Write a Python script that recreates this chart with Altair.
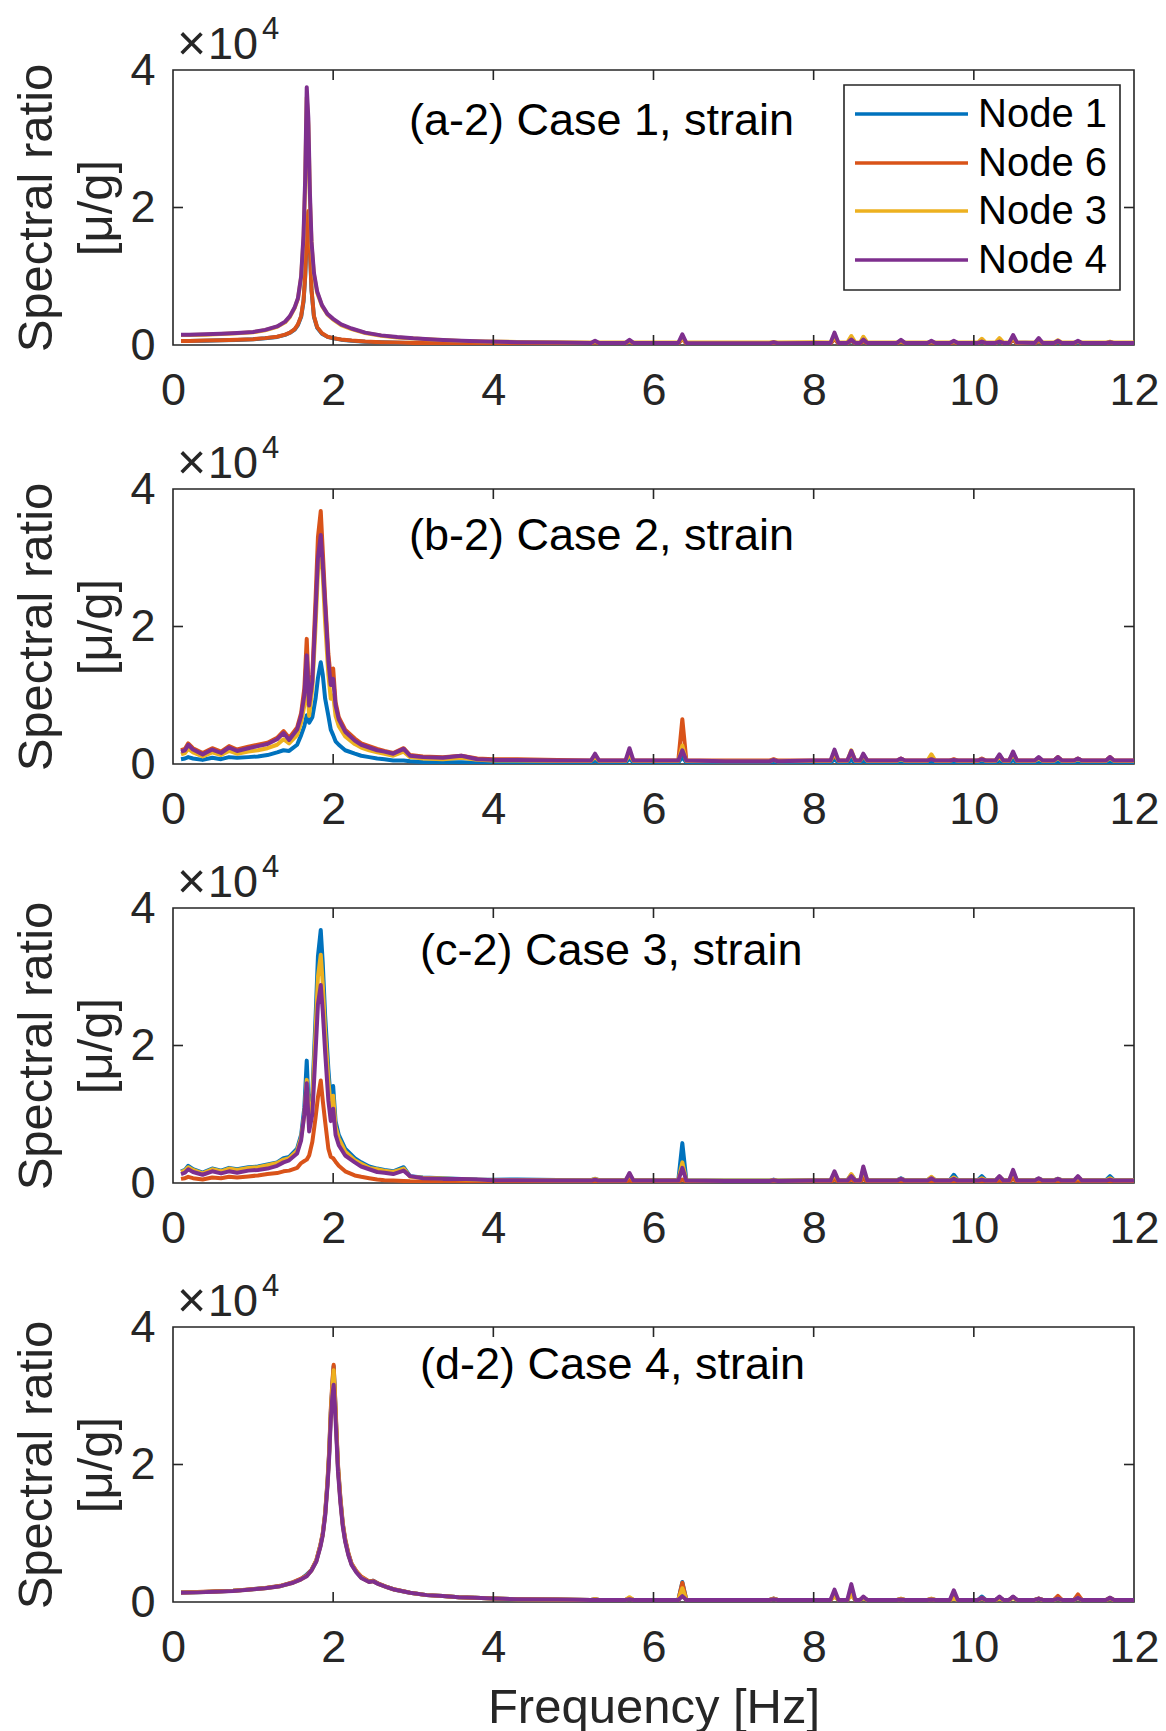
import altair as alt
import pandas as pd

FONT = "Liberation Sans"
AX = "#262626"
NODES = ["Node 1", "Node 6", "Node 3", "Node 4"]
COLORS = ["#0072BD", "#D95319", "#EDB120", "#7E2F8E"]
W, H = 961, 275

# ---------------- frequency grids (Hz) ----------------
FREQ_A_LO = [0.1, 0.2, 0.4, 0.6, 0.8, 1.0, 1.15, 1.3, 1.4, 1.46, 1.52, 1.56, 1.6, 1.63, 1.65, 1.67, 1.69,
             1.71, 1.73, 1.76, 1.8, 1.86, 1.93, 2.0, 2.1, 2.23, 2.4, 2.6, 2.8, 3.0, 3.3, 3.6, 3.9]
FREQ_BC_LO = [0.1, 0.15, 0.19, 0.25, 0.37, 0.49, 0.6, 0.7, 0.8, 0.94, 1.06, 1.18, 1.3, 1.38, 1.45, 1.55, 1.6,
              1.64, 1.67, 1.7, 1.74, 1.78, 1.81, 1.845, 1.87, 1.9, 1.94, 1.97, 2.0, 2.03, 2.07, 2.15, 2.27,
              2.35, 2.45, 2.55, 2.64, 2.75, 2.88, 2.96, 3.12, 3.37, 3.6, 3.8, 4.0]
FREQ_D_LO = [0.1, 0.3, 0.53, 0.75, 0.94, 1.15, 1.34, 1.5, 1.6, 1.67, 1.73, 1.79, 1.84, 1.87, 1.9, 1.93, 1.95,
             1.97, 1.99, 2.006, 2.02, 2.04, 2.06, 2.09, 2.12, 2.15, 2.19, 2.23, 2.29, 2.35, 2.45, 2.5, 2.56,
             2.66, 2.76, 2.96, 3.17, 3.37, 3.57, 3.77, 4.0]
FREQ_HI = [4.3, 4.8, 5.22, 5.27, 5.32, 5.65, 5.70, 5.75, 6.1, 6.31, 6.36, 6.41, 6.9, 7.45, 7.5, 7.55, 8.0,
           8.21, 8.26, 8.31, 8.42, 8.47, 8.52, 8.58, 8.62, 8.67, 9.04, 9.09, 9.14, 9.42, 9.47, 9.52,
           9.70, 9.75, 9.80, 10.05, 10.1, 10.15, 10.27, 10.32, 10.37, 10.44, 10.49, 10.54,
           10.76, 10.81, 10.86, 11.0, 11.05, 11.1, 11.25, 11.3, 11.35, 11.65, 11.7, 11.75, 12.0]

# ---------------- spectral ratio values (x 10^4 micro/g) ----------------
# Case 1
A1_LO = [0.058, 0.06, 0.063, 0.068, 0.074, 0.083, 0.098, 0.118, 0.148, 0.178, 0.225, 0.29, 0.41, 0.63, 0.98, 1.58, 1.93,
         1.38, 0.79, 0.41, 0.25, 0.165, 0.118, 0.098, 0.078, 0.063, 0.049, 0.039, 0.034, 0.029, 0.027, 0.026, 0.025]
A6_LO = [0.06, 0.06, 0.065, 0.07, 0.075, 0.085, 0.1, 0.12, 0.15, 0.18, 0.23, 0.3, 0.42, 0.65, 1.0, 1.6, 1.95,
         1.4, 0.8, 0.42, 0.26, 0.17, 0.12, 0.1, 0.08, 0.065, 0.05, 0.04, 0.035, 0.03, 0.028, 0.027, 0.026]
A3_LO = [0.145, 0.145, 0.15, 0.16, 0.17, 0.185, 0.215, 0.265, 0.33, 0.41, 0.54, 0.67, 0.98, 1.55, 2.3, 3.6, 3.2,
         2.1, 1.45, 1.02, 0.76, 0.57, 0.44, 0.37, 0.29, 0.23, 0.175, 0.135, 0.11, 0.095, 0.076, 0.06, 0.05]
A4_LO = [0.15, 0.15, 0.155, 0.165, 0.175, 0.19, 0.22, 0.27, 0.34, 0.42, 0.55, 0.68, 1.0, 1.6, 2.4, 3.75, 3.3,
         2.2, 1.5, 1.05, 0.78, 0.58, 0.45, 0.38, 0.3, 0.24, 0.18, 0.14, 0.115, 0.097, 0.078, 0.062, 0.05]
A1_HI = [0.03, 0.025, 0.02, 0.04, 0.02, 0.02, 0.045, 0.02, 0.02, 0.02, 0.1, 0.02, 0.02, 0.02, 0.03, 0.02, 0.02,
         0.02, 0.1, 0.02, 0.02, 0.06, 0.02, 0.02, 0.06, 0.02, 0.02, 0.05, 0.02, 0.02, 0.04, 0.02, 0.02, 0.04, 0.02,
         0.02, 0.05, 0.02, 0.02, 0.05, 0.02, 0.02, 0.08, 0.02, 0.02, 0.06, 0.02, 0.02, 0.04, 0.02, 0.02, 0.04, 0.02,
         0.02, 0.04, 0.02, 0.02]
A6_HI = [0.03, 0.025, 0.02, 0.04, 0.02, 0.02, 0.05, 0.02, 0.02, 0.02, 0.09, 0.02, 0.02, 0.02, 0.03, 0.02, 0.02,
         0.02, 0.09, 0.02, 0.02, 0.07, 0.02, 0.02, 0.06, 0.02, 0.02, 0.05, 0.02, 0.02, 0.04, 0.02, 0.02, 0.04, 0.02,
         0.02, 0.06, 0.02, 0.02, 0.06, 0.02, 0.02, 0.08, 0.02, 0.02, 0.06, 0.02, 0.02, 0.05, 0.02, 0.02, 0.05, 0.02,
         0.02, 0.04, 0.02, 0.02]
A3_HI = [0.045, 0.04, 0.035, 0.05, 0.035, 0.035, 0.06, 0.035, 0.035, 0.035, 0.1, 0.035, 0.035, 0.035, 0.045, 0.035,
         0.04, 0.035, 0.12, 0.035, 0.035, 0.13, 0.035, 0.035, 0.12, 0.035, 0.035, 0.06, 0.035, 0.035, 0.05, 0.035,
         0.035, 0.05, 0.035, 0.035, 0.09, 0.035, 0.035, 0.1, 0.035, 0.035, 0.11, 0.035, 0.035, 0.08, 0.035, 0.035,
         0.07, 0.035, 0.035, 0.05, 0.035, 0.035, 0.05, 0.035, 0.035]
A4_HI = [0.04, 0.035, 0.03, 0.063, 0.03, 0.03, 0.075, 0.03, 0.028, 0.03, 0.155, 0.03, 0.025, 0.025, 0.04, 0.025,
         0.03, 0.03, 0.18, 0.03, 0.03, 0.08, 0.03, 0.03, 0.08, 0.03, 0.03, 0.075, 0.03, 0.03, 0.06, 0.03, 0.03,
         0.06, 0.03, 0.03, 0.05, 0.03, 0.03, 0.05, 0.03, 0.03, 0.145, 0.035, 0.03, 0.1, 0.03, 0.03, 0.06, 0.03,
         0.03, 0.06, 0.03, 0.03, 0.04, 0.03, 0.03]

# Case 2
B1_LO = [0.07, 0.08, 0.1, 0.08, 0.06, 0.09, 0.07, 0.1, 0.09, 0.1, 0.11, 0.13, 0.17, 0.2, 0.19, 0.28, 0.42, 0.55,
         0.71, 0.6, 0.68, 0.95, 1.25, 1.48, 1.3, 0.95, 0.7, 0.5, 0.42, 0.33, 0.28, 0.2, 0.15, 0.12, 0.1, 0.08,
         0.07, 0.05, 0.05, 0.04, 0.03, 0.025, 0.025, 0.02, 0.02]
B6_LO = [0.2, 0.22, 0.3, 0.23, 0.16, 0.23, 0.18, 0.26, 0.21, 0.25, 0.28, 0.31, 0.38, 0.48, 0.38, 0.53, 0.74, 1.1,
         1.82, 0.92, 1.3, 2.4, 3.3, 3.68, 3.1, 2.4, 1.6, 1.25, 1.39, 0.9, 0.68, 0.5, 0.37, 0.3, 0.26, 0.22, 0.19,
         0.16, 0.23, 0.13, 0.11, 0.1, 0.12, 0.08, 0.07]
B3_LO = [0.14, 0.16, 0.22, 0.17, 0.11, 0.17, 0.13, 0.19, 0.15, 0.18, 0.2, 0.23, 0.28, 0.36, 0.3, 0.42, 0.6, 0.85,
         1.3, 0.7, 1.1, 2.0, 2.8, 3.2, 2.75, 2.05, 1.3, 0.95, 1.0, 0.7, 0.55, 0.4, 0.29, 0.24, 0.2, 0.17, 0.15,
         0.12, 0.18, 0.1, 0.08, 0.07, 0.09, 0.06, 0.05]
B4_LO = [0.18, 0.2, 0.28, 0.21, 0.14, 0.21, 0.16, 0.24, 0.19, 0.23, 0.26, 0.29, 0.36, 0.45, 0.35, 0.5, 0.7, 1.0,
         1.58, 0.85, 1.2, 2.2, 3.0, 3.33, 2.9, 2.3, 1.5, 1.15, 1.24, 0.85, 0.65, 0.47, 0.34, 0.28, 0.24, 0.2, 0.18,
         0.15, 0.22, 0.12, 0.1, 0.09, 0.12, 0.07, 0.06]
B1_HI = [0.02, 0.02, 0.02, 0.05, 0.02, 0.02, 0.08, 0.02, 0.02, 0.02, 0.1, 0.02, 0.015, 0.015, 0.03, 0.015, 0.02,
         0.02, 0.07, 0.02, 0.02, 0.06, 0.02, 0.02, 0.05, 0.02, 0.02, 0.04, 0.02, 0.02, 0.04, 0.02, 0.02, 0.03, 0.02,
         0.02, 0.04, 0.02, 0.02, 0.05, 0.02, 0.02, 0.06, 0.02, 0.02, 0.04, 0.02, 0.02, 0.04, 0.02, 0.02, 0.04, 0.02,
         0.02, 0.04, 0.02, 0.02]
B6_HI = [0.07, 0.06, 0.05, 0.12, 0.05, 0.05, 0.15, 0.05, 0.05, 0.05, 0.65, 0.05, 0.05, 0.05, 0.07, 0.05, 0.05,
         0.05, 0.13, 0.05, 0.05, 0.16, 0.05, 0.05, 0.12, 0.05, 0.05, 0.08, 0.05, 0.05, 0.08, 0.05, 0.05, 0.07, 0.05,
         0.05, 0.08, 0.05, 0.05, 0.12, 0.05, 0.05, 0.15, 0.05, 0.05, 0.09, 0.05, 0.05, 0.1, 0.05, 0.05, 0.08, 0.05,
         0.05, 0.1, 0.05, 0.05]
B3_HI = [0.05, 0.045, 0.045, 0.1, 0.045, 0.045, 0.14, 0.045, 0.045, 0.045, 0.27, 0.045, 0.04, 0.04, 0.06, 0.04,
         0.045, 0.045, 0.16, 0.045, 0.045, 0.2, 0.045, 0.045, 0.13, 0.045, 0.045, 0.07, 0.045, 0.045, 0.14, 0.045,
         0.045, 0.06, 0.045, 0.045, 0.07, 0.045, 0.045, 0.1, 0.045, 0.045, 0.15, 0.045, 0.045, 0.08, 0.045, 0.045,
         0.09, 0.045, 0.045, 0.07, 0.045, 0.045, 0.09, 0.045, 0.045]
B4_HI = [0.06, 0.05, 0.05, 0.15, 0.05, 0.05, 0.23, 0.05, 0.05, 0.05, 0.2, 0.05, 0.04, 0.04, 0.06, 0.04, 0.05,
         0.05, 0.21, 0.05, 0.05, 0.19, 0.05, 0.05, 0.15, 0.05, 0.05, 0.08, 0.05, 0.05, 0.07, 0.05, 0.05, 0.06, 0.05,
         0.05, 0.07, 0.05, 0.05, 0.14, 0.05, 0.05, 0.18, 0.05, 0.05, 0.1, 0.05, 0.05, 0.1, 0.05, 0.05, 0.08, 0.05,
         0.05, 0.1, 0.05, 0.05]

# Case 3
C1_LO = [0.17, 0.19, 0.25, 0.2, 0.15, 0.21, 0.18, 0.22, 0.2, 0.23, 0.24, 0.27, 0.3, 0.36, 0.38, 0.5, 0.7, 1.1,
         1.78, 0.95, 1.3, 2.4, 3.3, 3.68, 3.2, 2.43, 1.66, 1.2, 1.41, 0.9, 0.7, 0.5, 0.36, 0.3, 0.24, 0.21, 0.19,
         0.17, 0.23, 0.1, 0.08, 0.07, 0.06, 0.05, 0.048]
C6_LO = [0.06, 0.07, 0.09, 0.07, 0.05, 0.08, 0.07, 0.09, 0.08, 0.096, 0.11, 0.13, 0.144, 0.17, 0.18, 0.22, 0.29,
         0.32, 0.34, 0.4, 0.6, 0.95, 1.25, 1.49, 1.2, 0.89, 0.5, 0.38, 0.36, 0.31, 0.25, 0.17, 0.11, 0.09, 0.07,
         0.05, 0.04, 0.035, 0.03, 0.025, 0.02, 0.02, 0.02, 0.02, 0.02]
C3_LO = [0.16, 0.18, 0.23, 0.19, 0.14, 0.2, 0.17, 0.21, 0.19, 0.22, 0.23, 0.26, 0.29, 0.34, 0.36, 0.47, 0.66, 1.0,
         1.5, 0.88, 1.2, 2.2, 3.0, 3.32, 2.9, 2.2, 1.5, 1.1, 1.27, 0.82, 0.65, 0.46, 0.33, 0.28, 0.22, 0.2, 0.18,
         0.16, 0.21, 0.09, 0.075, 0.065, 0.055, 0.048, 0.045]
C4_LO = [0.13, 0.15, 0.2, 0.16, 0.12, 0.17, 0.14, 0.17, 0.15, 0.18, 0.19, 0.21, 0.25, 0.3, 0.33, 0.43, 0.62, 1.0,
         1.45, 0.75, 1.0, 1.9, 2.6, 2.88, 2.5, 1.9, 1.2, 0.9, 1.08, 0.7, 0.55, 0.4, 0.3, 0.24, 0.2, 0.16, 0.15,
         0.13, 0.18, 0.1, 0.07, 0.06, 0.06, 0.05, 0.04]
C1_HI = [0.05, 0.045, 0.04, 0.06, 0.04, 0.04, 0.1, 0.04, 0.04, 0.04, 0.58, 0.04, 0.035, 0.035, 0.05, 0.035, 0.04,
         0.04, 0.1, 0.04, 0.04, 0.12, 0.04, 0.04, 0.14, 0.04, 0.04, 0.07, 0.04, 0.04, 0.08, 0.04, 0.04, 0.12, 0.04,
         0.04, 0.1, 0.04, 0.04, 0.08, 0.04, 0.04, 0.12, 0.04, 0.04, 0.06, 0.04, 0.04, 0.06, 0.04, 0.04, 0.07, 0.04,
         0.04, 0.1, 0.04, 0.04]
C6_HI = [0.02, 0.02, 0.02, 0.03, 0.02, 0.02, 0.04, 0.02, 0.02, 0.02, 0.05, 0.02, 0.02, 0.02, 0.03, 0.02, 0.02,
         0.02, 0.05, 0.02, 0.02, 0.05, 0.02, 0.02, 0.06, 0.02, 0.02, 0.03, 0.02, 0.02, 0.03, 0.02, 0.02, 0.03, 0.02,
         0.02, 0.03, 0.02, 0.02, 0.04, 0.02, 0.02, 0.06, 0.02, 0.02, 0.03, 0.02, 0.02, 0.03, 0.02, 0.02, 0.04, 0.02,
         0.02, 0.03, 0.02, 0.02]
C3_HI = [0.045, 0.04, 0.04, 0.06, 0.04, 0.04, 0.12, 0.04, 0.04, 0.04, 0.3, 0.04, 0.035, 0.035, 0.045, 0.035, 0.04,
         0.04, 0.12, 0.04, 0.04, 0.13, 0.04, 0.04, 0.18, 0.04, 0.04, 0.06, 0.04, 0.04, 0.09, 0.04, 0.04, 0.08, 0.04,
         0.04, 0.07, 0.04, 0.04, 0.09, 0.04, 0.04, 0.15, 0.04, 0.04, 0.06, 0.04, 0.04, 0.06, 0.04, 0.04, 0.08, 0.04,
         0.04, 0.07, 0.04, 0.04]
C4_HI = [0.04, 0.035, 0.035, 0.05, 0.035, 0.035, 0.145, 0.035, 0.035, 0.035, 0.22, 0.035, 0.03, 0.03, 0.04, 0.03,
         0.035, 0.035, 0.17, 0.035, 0.035, 0.1, 0.035, 0.035, 0.24, 0.035, 0.035, 0.06, 0.035, 0.035, 0.07, 0.035,
         0.035, 0.06, 0.035, 0.035, 0.05, 0.035, 0.035, 0.1, 0.035, 0.035, 0.19, 0.035, 0.035, 0.07, 0.035, 0.035,
         0.06, 0.035, 0.035, 0.1, 0.035, 0.035, 0.05, 0.035, 0.035]

# Case 4
D1_LO = [0.138, 0.143, 0.152, 0.163, 0.18, 0.202, 0.232, 0.285, 0.335, 0.4, 0.465, 0.6, 0.82, 0.99, 1.28, 1.75,
         2.17, 2.75, 3.15, 3.43, 3.08, 2.5, 1.97, 1.5, 1.13, 0.9, 0.7, 0.55, 0.44, 0.36, 0.295, 0.31, 0.268, 0.222,
         0.183, 0.135, 0.1, 0.086, 0.07, 0.062, 0.05]
D6_LO = [0.14, 0.145, 0.155, 0.165, 0.182, 0.205, 0.235, 0.29, 0.34, 0.385, 0.47, 0.61, 0.83, 1.0, 1.3, 1.78, 2.2,
         2.8, 3.2, 3.45, 3.1, 2.55, 2.0, 1.52, 1.15, 0.92, 0.71, 0.56, 0.45, 0.37, 0.3, 0.31, 0.27, 0.225, 0.185,
         0.136, 0.1, 0.086, 0.07, 0.062, 0.05]
D3_LO = [0.136, 0.142, 0.15, 0.162, 0.179, 0.2, 0.23, 0.28, 0.33, 0.38, 0.46, 0.6, 0.81, 0.98, 1.27, 1.73, 2.15,
         2.72, 3.1, 3.37, 3.02, 2.48, 1.95, 1.48, 1.12, 0.89, 0.69, 0.55, 0.44, 0.355, 0.29, 0.3, 0.265, 0.22,
         0.182, 0.134, 0.1, 0.086, 0.07, 0.062, 0.05]
D4_LO = [0.134, 0.14, 0.149, 0.16, 0.178, 0.2, 0.23, 0.28, 0.33, 0.375, 0.46, 0.59, 0.8, 0.97, 1.25, 1.7, 2.1,
         2.65, 3.0, 3.16, 2.9, 2.41, 1.9, 1.45, 1.1, 0.88, 0.68, 0.54, 0.43, 0.35, 0.29, 0.3, 0.264, 0.22, 0.182,
         0.134, 0.1, 0.086, 0.07, 0.062, 0.05]
D1_HI = [0.04, 0.035, 0.03, 0.04, 0.03, 0.03, 0.05, 0.03, 0.03, 0.03, 0.29, 0.03, 0.03, 0.03, 0.05, 0.03, 0.03,
         0.03, 0.1, 0.03, 0.03, 0.12, 0.03, 0.03, 0.06, 0.03, 0.03, 0.04, 0.03, 0.03, 0.04, 0.03, 0.03, 0.08, 0.03,
         0.03, 0.08, 0.03, 0.03, 0.06, 0.03, 0.03, 0.07, 0.03, 0.03, 0.05, 0.03, 0.03, 0.06, 0.03, 0.03, 0.07, 0.03,
         0.03, 0.06, 0.03, 0.03]
D6_HI = [0.04, 0.035, 0.03, 0.04, 0.03, 0.03, 0.05, 0.03, 0.03, 0.03, 0.28, 0.03, 0.03, 0.03, 0.05, 0.03, 0.03,
         0.03, 0.09, 0.03, 0.03, 0.12, 0.03, 0.03, 0.06, 0.03, 0.03, 0.04, 0.03, 0.03, 0.04, 0.03, 0.03, 0.06, 0.03,
         0.03, 0.06, 0.03, 0.03, 0.06, 0.03, 0.03, 0.07, 0.03, 0.03, 0.05, 0.03, 0.03, 0.09, 0.03, 0.03, 0.11, 0.03,
         0.03, 0.06, 0.03, 0.03]
D3_HI = [0.04, 0.035, 0.03, 0.04, 0.03, 0.03, 0.07, 0.03, 0.03, 0.03, 0.2, 0.03, 0.03, 0.03, 0.05, 0.03, 0.03,
         0.03, 0.08, 0.03, 0.03, 0.1, 0.03, 0.03, 0.06, 0.03, 0.03, 0.05, 0.03, 0.03, 0.05, 0.03, 0.03, 0.05, 0.03,
         0.03, 0.05, 0.03, 0.03, 0.05, 0.03, 0.03, 0.06, 0.03, 0.03, 0.05, 0.03, 0.03, 0.05, 0.03, 0.03, 0.06, 0.03,
         0.03, 0.05, 0.03, 0.03]
D4_HI = [0.04, 0.035, 0.03, 0.03, 0.03, 0.03, 0.04, 0.03, 0.03, 0.03, 0.086, 0.03, 0.03, 0.03, 0.04, 0.03, 0.03,
         0.03, 0.18, 0.03, 0.03, 0.26, 0.03, 0.03, 0.08, 0.03, 0.03, 0.035, 0.03, 0.03, 0.035, 0.03, 0.03, 0.17,
         0.03, 0.03, 0.06, 0.03, 0.03, 0.08, 0.03, 0.03, 0.08, 0.03, 0.03, 0.05, 0.03, 0.03, 0.05, 0.03, 0.03,
         0.06, 0.03, 0.03, 0.06, 0.03, 0.03]

CASES = {
    "a": (FREQ_A_LO, [A1_LO, A6_LO, A3_LO, A4_LO], [A1_HI, A6_HI, A3_HI, A4_HI]),
    "b": (FREQ_BC_LO, [B1_LO, B6_LO, B3_LO, B4_LO], [B1_HI, B6_HI, B3_HI, B4_HI]),
    "c": (FREQ_BC_LO, [C1_LO, C6_LO, C3_LO, C4_LO], [C1_HI, C6_HI, C3_HI, C4_HI]),
    "d": (FREQ_D_LO, [D1_LO, D6_LO, D3_LO, D4_LO], [D1_HI, D6_HI, D3_HI, D4_HI]),
}
TITLES = {"a": "(a-2) Case 1, strain", "b": "(b-2) Case 2, strain",
          "c": "(c-2) Case 3, strain", "d": "(d-2) Case 4, strain"}
TITLE_POS = {"a": (236, 65), "b": (236, 61), "c": (247, 57), "d": (247, 52)}

X_TICKS = [0, 2, 4, 6, 8, 10, 12]
Y_TICKS = [0, 2, 4]


def x_enc(last):
    return alt.X("Frequency:Q",
                 scale=alt.Scale(domain=[0, 12], nice=False, zero=False),
                 axis=alt.Axis(values=X_TICKS, title="Frequency [Hz]" if last else None,
                               labelPadding=23, titlePadding=13, labelFlush=False,
                               labelOverlap=False, format="d"))


def y_enc():
    return alt.Y("Ratio:Q", scale=alt.Scale(domain=[0, 4], nice=False),
                 axis=alt.Axis(values=Y_TICKS, title=["Spectral ratio", "[\u03bc/g]"],
                               labelPadding=18, titlePadding=8, titleLineHeight=60,
                               labelFlush=False, labelOverlap=False, format="d"))


def panel(key, first, last):
    lo_f, lo_vals, hi_vals = CASES[key]
    freq = lo_f + FREQ_HI
    layers = []
    X, Y = x_enc(last), y_enc()
    for node, color, lo, hi in zip(NODES, COLORS, lo_vals, hi_vals):
        vals = lo + hi
        if len(vals) != len(freq):
            raise ValueError(f"length mismatch {key} {node}: {len(vals)} vs {len(freq)}")
        df = pd.DataFrame({"Frequency": freq, "Ratio": vals, "Node": node})
        layers.append(alt.Chart(df).mark_line(color=color, strokeWidth=4, clip=True,
                                              strokeJoin="round").encode(x=X, y=Y))
    # inward ticks (box style)
    xt = pd.DataFrame({"Frequency": X_TICKS[1:-1]})
    layers.append(alt.Chart(xt).mark_rule(color=AX, strokeWidth=1.6).encode(
        x=X, y=alt.value(H), y2=alt.value(H - 10)))
    layers.append(alt.Chart(xt).mark_rule(color=AX, strokeWidth=1.6).encode(
        x=X, y=alt.value(0), y2=alt.value(10)))
    yt = pd.DataFrame({"Ratio": Y_TICKS[1:-1]})
    layers.append(alt.Chart(yt).mark_rule(color=AX, strokeWidth=1.6).encode(
        y=Y, x=alt.value(0), x2=alt.value(10)))
    layers.append(alt.Chart(yt).mark_rule(color=AX, strokeWidth=1.6).encode(
        y=Y, x=alt.value(W), x2=alt.value(W - 10)))
    # exponent label  (x10^4)
    layers.append(alt.Chart(pd.DataFrame({"t": ["\u00d7"]})).mark_text(
        align="left", baseline="alphabetic", font=FONT, fontSize=50, color=AX).encode(
        x=alt.value(4), y=alt.value(-10), text="t:N"))
    layers.append(alt.Chart(pd.DataFrame({"t": ["10"]})).mark_text(
        align="left", baseline="alphabetic", font=FONT, fontSize=45, color=AX).encode(
        x=alt.value(35), y=alt.value(-11), text="t:N"))
    layers.append(alt.Chart(pd.DataFrame({"t": ["4"]})).mark_text(
        align="left", baseline="alphabetic", font=FONT, fontSize=31, color=AX).encode(
        x=alt.value(89), y=alt.value(-31), text="t:N"))
    # panel title
    tx, ty = TITLE_POS[key]
    layers.append(alt.Chart(pd.DataFrame({"t": [TITLES[key]]})).mark_text(
        align="left", baseline="alphabetic", font=FONT, fontSize=45, color="black").encode(
        x=alt.value(tx), y=alt.value(ty), text="t:N"))
    if first:
        one = pd.DataFrame({"k": [0]})
        layers.append(alt.Chart(one).mark_rect(fill="white", stroke=AX, strokeWidth=1.6).encode(
            x=alt.value(671), x2=alt.value(947), y=alt.value(15), y2=alt.value(220)))
        rows = [44, 93, 141, 190]
        for node, color, ry in zip(NODES, COLORS, rows):
            layers.append(alt.Chart(one).mark_rule(color=color, strokeWidth=3.5).encode(
                x=alt.value(682), x2=alt.value(795), y=alt.value(ry)))
            layers.append(alt.Chart(pd.DataFrame({"t": [node]})).mark_text(
                align="left", baseline="middle", font=FONT, fontSize=40, color="black").encode(
                x=alt.value(805), y=alt.value(ry + 1), text="t:N"))
    return alt.layer(*layers).properties(width=W, height=H)


chart = alt.vconcat(
    panel("a", True, False),
    panel("b", False, False),
    panel("c", False, False),
    panel("d", False, True),
    spacing=144, bounds="flush",
).properties(
    padding={"left": 12, "top": 13, "right": 5, "bottom": 5}, background="white"
).configure_view(
    stroke=AX, strokeWidth=1.6
).configure_axis(
    grid=False, domain=False, ticks=False,
    labelFont=FONT, labelFontSize=45, labelColor=AX,
    titleFont=FONT, titleFontSize=49, titleFontWeight="normal", titleColor=AX,
)

chart.save("out.html", embed_options={"renderer": "svg", "actions": False})
